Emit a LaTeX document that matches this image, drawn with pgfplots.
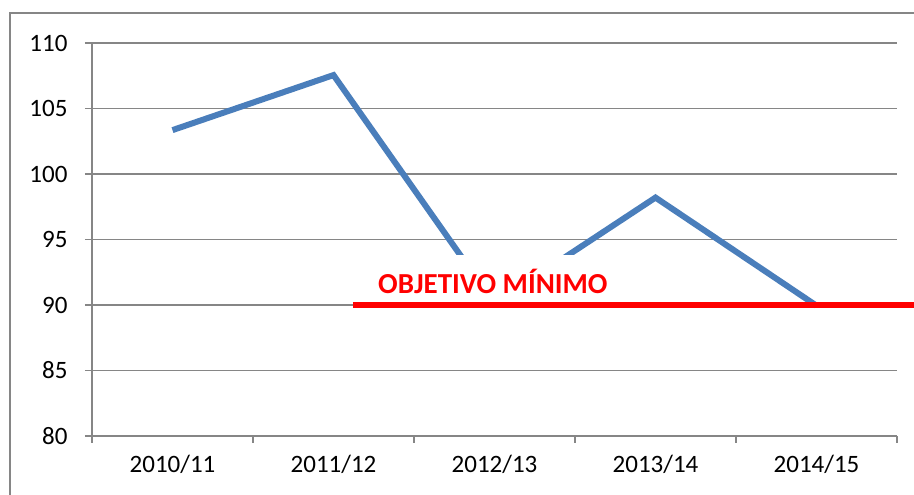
\documentclass[border=0pt]{standalone}
\usepackage{pgfplots}
\pgfplotsset{compat=1.18}
\usepackage{fontspec}
\setmainfont{Carlito}
\definecolor{exblue}{RGB}{74,126,187}
\definecolor{exgray}{RGB}{134,134,134}
\begin{document}
\begin{tikzpicture}[x=1pt,y=1pt]
\path[use as bounding box] (0,0) rectangle (914,495);
\draw[exgray, line width=1.5pt] (10,0) -- (10,482) -- (914,482);
\begin{axis}[
  at={(92pt,59pt)}, anchor=south west,
  scale only axis, width=805pt, height=393pt,
  xmin=-0.5, xmax=4.5, ymin=80, ymax=110,
  axis x line=bottom, axis y line=left,
  axis line style={exgray, line width=1.5pt, -},
  xtick={0,1,2,3,4},
  xticklabels={2010/11,2011/12,2012/13,2013/14,2014/15},
  major x tick style={draw=none},
  minor xtick={-0.5,0.5,1.5,2.5,3.5,4.5},
  minor x tick style={exgray, line width=1.5pt},
  ytick={80,85,...,110},
  y tick style={exgray, line width=1.5pt},
  tick align=outside,
  major tick length=7pt, minor tick length=7pt,
  ymajorgrids,
  grid style={exgray, line width=1.5pt},
  /pgf/number format/assume math mode=true,
  ticklabel style={font=\fontsize{25}{30}\selectfont},
  yticklabel style={anchor=east, xshift=-14pt},
  xticklabel style={yshift=-9pt},
  clip=false,
]
\addplot[exblue, line width=6pt, line join=miter] coordinates {
  (0,103.35) (1,107.55) (2,90.1) (3,98.2) (4,89.95)
};
\node[fill=white, text=red, inner xsep=6pt, inner ysep=14pt,
      font=\fontsize{29}{34}\selectfont\bfseries]
  at (axis cs:1.99,91.8) {OBJETIVO MÍNIMO};
\addplot[red, line width=5.5pt] coordinates {(1.12,90) (4.61,90)};
\end{axis}
\end{tikzpicture}
\end{document}
